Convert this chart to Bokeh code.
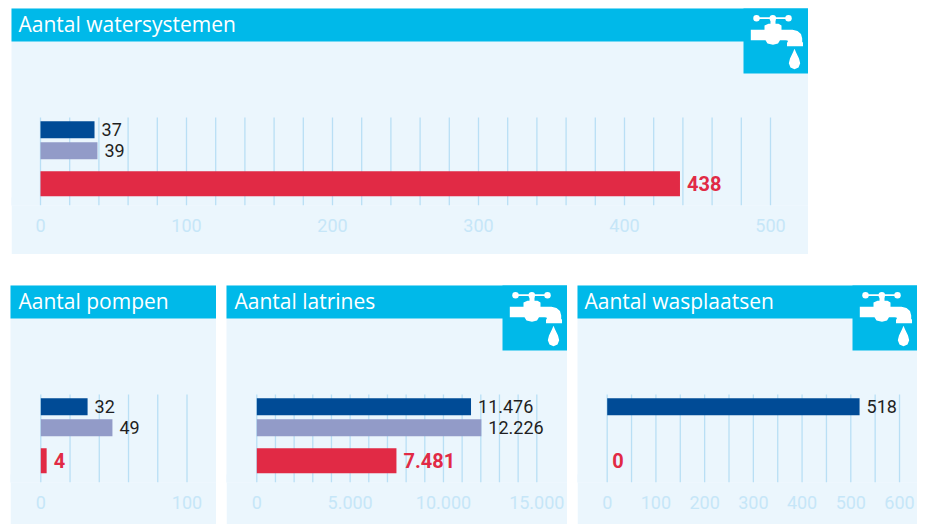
from bokeh.embed import file_html
from bokeh.resources import INLINE
from bokeh.plotting import figure
from bokeh.layouts import column, row
from bokeh.models import Range1d, LinearAxis, FixedTicker, ColumnDataSource, BoxAnnotation
from bokeh.core.properties import value

# ---- data ----
titles = ["Aantal watersystemen", "Aantal pompen", "Aantal latrines", "Aantal wasplaatsen"]
navy_values = [37, 32, 11476, 518]
lilac_values = [39, 49, 12030, None]   # drawn length of the lilac latrine bar is shorter than its printed label
red_values = [438, 4, 7481, 0]
navy_labels = ["37", "32", "11.476", "518"]
lilac_labels = ["39", "49", "12.226", None]
red_labels = ["438", "4", "7.481", "0"]
axis_ticks = [[0, 100, 200, 300, 400, 500], [0, 100], [0, 5000, 10000, 15000],
              [0, 100, 200, 300, 400, 500, 600]]
axis_labels = [["0", "100", "200", "300", "400", "500"], ["0", "100"],
               ["0", "5.000", "10.000", "15.000"],
               ["0", "100", "200", "300", "400", "500", "600"]]
grid_steps = [20, 20, 1000, 50]
axis_max = [500, 100, 15000, 600]
has_icon = [True, False, True, True]

# ---- layout and style ----
PANEL = "#ebf6fd"; HEADER = "#00b9e9"; NAVY = "#004b96"; LILAC = "#929bc8"; RED = "#e12a45"
GRID = "#b9dff5"; TICK = "#c6e6f8"; INK = "#1f1f22"
FONT = "Roboto"; TITLE_FONT = "Open Sans"
# per panel: width, height, pixel of zero, px per unit, title left
GEOM = [(797, 246, 29.0, 1.46, 7), (206, 239, 30.3, 1.462, 8),
        (341, 239, 30.3, 0.018667, 8), (340, 239, 29.7, 0.4872, 7)]
SLOT_NAVY = (112.7, 17); SLOT_LILAC = (133.7, 17); SLOT_RED = (162.7, 25)
GRID_TOP, GRID_BOTTOM, HEADER_H, ICON_SIZE = 109, 197, 33, 65


def faucet(p, x0, y0=0):
    kw = dict(x_range_name="px", fill_color="white", line_color=None)
    body = [(7.3, 21.3), (21, 21.3), (21, 17), (25, 15.3), (27, 15.3), (27, 11), (32, 11), (32, 15.3),
            (35, 15.3), (38, 17), (38, 21.3), (49, 21.3), (54, 22.6), (57.5, 25.5), (58.7, 30),
            (58.7, 33.7), (59.5, 33.7), (59.5, 37.7), (43.5, 37.7), (43.5, 33.7), (44.5, 33.7),
            (44, 32), (42, 31.7), (36.5, 31.7), (34.5, 35), (29.5, 36.3), (24, 35), (22, 31.7), (7.3, 31.7)]
    p.patch([x0 + a for a, b in body], [y0 + b for a, b in body], **kw)
    bar = [(13, 8.8), (45, 8.8), (45, 10.6), (13, 10.6)]
    p.patch([x0 + a for a, b in bar], [y0 + b for a, b in bar], **kw)
    p.scatter([x0 + 13, x0 + 29.3, x0 + 45], [y0 + 9.7] * 3, size=6.5, marker="circle", **kw)
    drop = [(51, 40.3), (52.6, 44), (55.5, 50), (56.7, 54.7), (55, 59), (51, 60.7), (47, 59), (45.3, 54.7),
            (46.5, 50), (49.4, 44)]
    p.patch([x0 + a for a, b in drop], [y0 + b for a, b in drop], **kw)


def panel(i):
    w, h, zero, scale, title_x = GEOM[i]
    p = figure(width=w, height=h, output_backend="svg", toolbar_location=None,
               x_range=Range1d(-zero / scale, (w - zero) / scale), y_range=Range1d(GRID_BOTTOM, 0),
               x_axis_location=None, y_axis_location=None,
               min_border_left=0, min_border_right=0, min_border_top=0, min_border_bottom=h - GRID_BOTTOM,
               background_fill_color=PANEL, border_fill_color=PANEL, outline_line_color=None)
    p.grid.visible = False
    p.extra_x_ranges["px"] = Range1d(0, w)
    # one flat sheet across the frame edge, so no seam shows between frame and border
    p.add_layout(BoxAnnotation(left=-2, right=w + 2, top=GRID_BOTTOM - 8, bottom=h + 2,
                               left_units="canvas", right_units="canvas", top_units="canvas",
                               bottom_units="canvas", fill_color=PANEL, fill_alpha=1,
                               line_color=None, level="underlay"))

    axis = LinearAxis(ticker=FixedTicker(ticks=axis_ticks[i]), axis_line_color=None,
                      major_tick_line_color=None, minor_tick_line_color=None,
                      major_tick_in=0, major_tick_out=0, major_label_standoff=13,
                      major_label_text_font=FONT, major_label_text_font_size="18px",
                      major_label_text_color=TICK,
                      major_label_overrides=dict(zip(axis_ticks[i], axis_labels[i])))
    p.add_layout(axis, "below")

    grid_x = list(range(0, axis_max[i] + 1, grid_steps[i]))
    p.segment(grid_x, [GRID_TOP] * len(grid_x), grid_x, [GRID_BOTTOM] * len(grid_x),
              line_color=GRID, line_width=1.3)

    p.quad(left=[-1], right=[w + 1], top=[-1], bottom=[HEADER_H], x_range_name="px",
           fill_color=HEADER, line_color=None)
    if has_icon[i]:
        p.quad(left=[w - ICON_SIZE], right=[w + 1], top=[-1], bottom=[ICON_SIZE], x_range_name="px",
               fill_color=HEADER, line_color=None)
        faucet(p, w - ICON_SIZE)
    p.text([title_x], [HEADER_H / 2 - 1], text=[titles[i]], x_range_name="px", text_baseline="middle",
           text_font=value(TITLE_FONT), text_font_size="21px", text_color="white")

    rows = [(navy_values[i], navy_labels[i], SLOT_NAVY, NAVY, INK, "normal", "18px"),
            (lilac_values[i], lilac_labels[i], SLOT_LILAC, LILAC, INK, "normal", "18px"),
            (red_values[i], red_labels[i], SLOT_RED, RED, RED, "bold", "20px")]
    for val, lab, (top, thick), col, ink, style, size in rows:
        if val is None:
            continue
        src = ColumnDataSource(dict(v=[val], y=[top + thick / 2], t=[lab]))
        if val > 0:
            p.hbar(y="y", right="v", left=0, height=thick, source=src, fill_color=col, line_color=None)
        p.text(x="v", y="y", text="t", source=src, x_offset=7 if val > 0 else 5, text_baseline="middle",
               text_font=value(FONT), text_font_size=size, text_font_style=style, text_color=ink)
    return p


figs = [panel(i) for i in range(4)]
figs[0].margin = (0, 0, 0, 11)
figs[1].margin = (0, 0, 0, 10)
figs[2].margin = (0, 0, 0, 10)
figs[3].margin = (0, 0, 0, 10)
bottom = row(figs[1], figs[2], figs[3], margin=(31, 0, 0, 0))
page = column(figs[0], bottom, margin=(8, 0, 0, 0))
open("out.html", "w").write(file_html(page, INLINE))
